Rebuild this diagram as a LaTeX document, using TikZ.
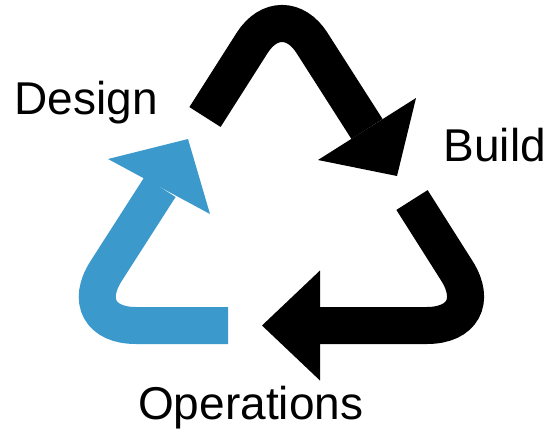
\documentclass[tikz,border=0pt]{standalone}
\usepackage{fontspec}
\setmainfont{Liberation Sans}
\definecolor{cycleblue}{RGB}{59,153,204}

\begin{document}
\begin{tikzpicture}[x=1pt,y=-1pt,shaft/.style={line width=37pt},stage/.style={font=\fontsize{46}{55}\selectfont,inner sep=0pt,anchor=base west}]

            \useasboundingbox (0,0) rectangle (554,432);

            % corner points of the cycle
            \coordinate (top) at (282,-4);
            \coordinate (right) at (491.5,325.5);
            \coordinate (left) at (71.2,325.5);

            % design -> build
            \coordinate (b1) at (205,117);
            \coordinate (b2) at (367,129);
            \draw[shaft, rounded corners=55.6pt] (b1) -- (top) -- (b2);
            \fill (416,98) -- (397,176) -- (318,160) -- cycle;

            % build -> operations
            \coordinate (o1) at (412,200);
            \coordinate (o2) at (320,325.5);
            \draw[shaft, rounded corners=64.7pt] (o1) -- (right) -- (o2);
            \fill (320,270.5) -- (262,325.5) -- (320,380.5) -- cycle;

            % operations -> design
            \coordinate (d1) at (228,325.5);
            \coordinate (d2) at (160,187);
            \draw[shaft, cycleblue, rounded corners=64.7pt] (d1) -- (left) -- (d2);
            \fill[cycleblue] (108,159) -- (188,139) -- (210,214) -- cycle;

            \node[stage] (design) at (14.5,114) {Design};
            \node[stage] (build) at (443.5,161.5) {Build};
            \node[stage] (operations) at (138,419) {Operations};

        \end{tikzpicture}
\end{document}
